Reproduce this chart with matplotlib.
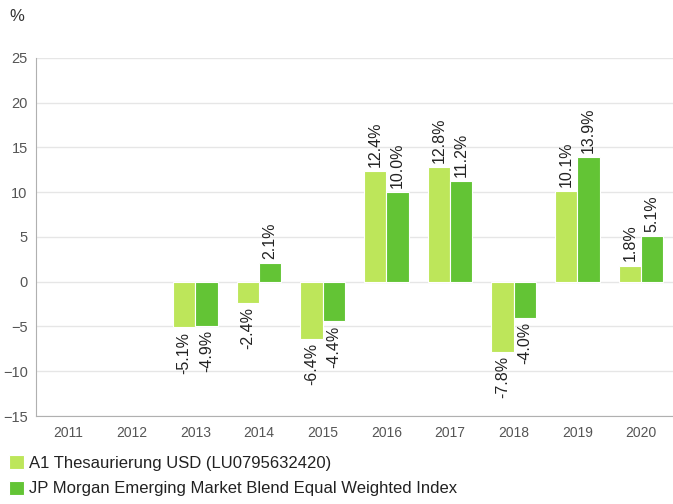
import numpy as np
import matplotlib
matplotlib.use('Agg')
import matplotlib.pyplot as plt

plt.rcParams['font.family'] = ['Liberation Sans', 'DejaVu Sans']

# data
years = ['2011', '2012', '2013', '2014', '2015', '2016', '2017', '2018', '2019', '2020']
fund = [np.nan, np.nan, -5.1, -2.4, -6.4, 12.4, 12.8, -7.8, 10.1, 1.8]
index = [np.nan, np.nan, -4.9, 2.1, -4.4, 10.0, 11.2, -4.0, 13.9, 5.1]
fund_name = 'A1 Thesaurierung USD (LU0795632420)'
index_name = 'JP Morgan Emerging Market Blend Equal Weighted Index'

c_fund = '#bde65a'
c_index = '#63c435'

fig = plt.figure(figsize=(6.73, 5.04), dpi=100)
ax = fig.add_axes([0.0535, 0.1746, 0.9465, 0.7104])

x = np.arange(len(years))
w = 0.35
b1 = ax.bar(x - w / 2, fund, w, color=c_fund, edgecolor='white', linewidth=0.8, label=fund_name, zorder=3)
b2 = ax.bar(x + w / 2, index, w, color=c_index, edgecolor='white', linewidth=0.8, label=index_name, zorder=3)

# value labels, rotated
for bars, vals in [(b1, fund), (b2, index)]:
    for rect, v in zip(bars, vals):
        if np.isnan(v):
            continue
        cx = rect.get_x() + rect.get_width() / 2
        if v >= 0:
            ax.annotate(f'{v:.1f}%', (cx, v), xytext=(0, 3), textcoords='offset points',
                        rotation=90, ha='center', va='bottom', fontsize=11.5, color='#222222')
        else:
            ax.annotate(f'{v:.1f}%', (cx, v), xytext=(0, -3), textcoords='offset points',
                        rotation=90, ha='center', va='top', fontsize=11.5, color='#222222')

ax.set_xlim(-0.5, 9.5)
ax.set_ylim(-15, 25)
ax.set_yticks(range(-15, 30, 5))
ax.set_xticks(x)
ax.set_xticklabels(years)
ax.tick_params(axis='y', length=0, pad=6, labelsize=10.5, labelcolor='#555555')
ax.tick_params(axis='x', length=0, pad=7, labelsize=10, labelcolor='#555555')
ax.grid(axis='y', color='#e6e6e6', linewidth=1, zorder=0)
for s in ['top', 'right']:
    ax.spines[s].set_visible(False)
ax.spines['left'].set_color('#b0b0b0')
ax.spines['bottom'].set_color('#b0b0b0')

fig.text(0.014, 0.968, '%', fontsize=12, color='#333333', va='center')

fig.legend(loc='upper left', bbox_to_anchor=(0.014, 0.097), frameon=False,
           fontsize=12, handlelength=0.9, handleheight=0.9, handletextpad=0.3,
           labelspacing=0.6, borderaxespad=0, borderpad=0, labelcolor='#222222')

fig.savefig('out.png', dpi=100)
